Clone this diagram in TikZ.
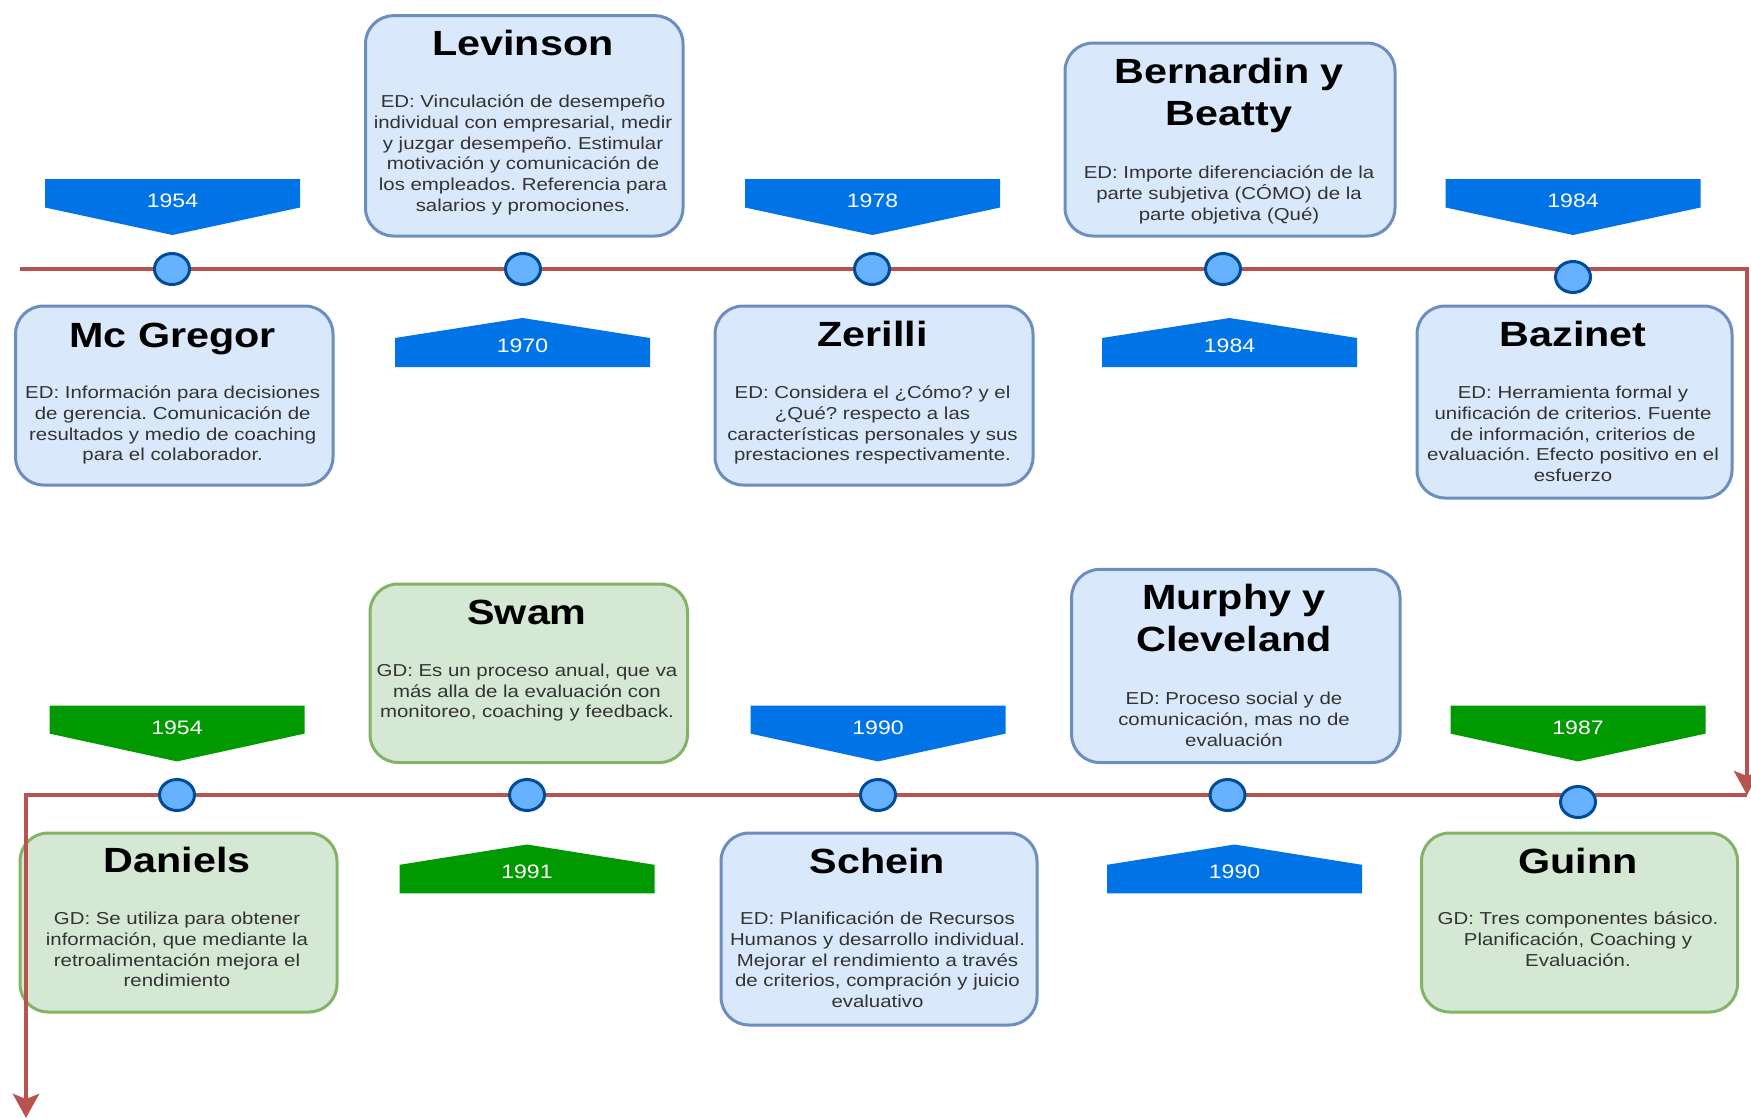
\documentclass[tikz,border=0pt]{standalone}
\usepackage{fontspec}
\setmainfont{Liberation Sans}[FakeStretch=1.18]
\usetikzlibrary{arrows.meta,shapes.geometric}
\frenchspacing

\definecolor{bluefill}{HTML}{DAE8FC}
\definecolor{blueline}{HTML}{6C8EBF}
\definecolor{greenfill}{HTML}{D5E8D4}
\definecolor{greenline}{HTML}{82B366}
\definecolor{bannerblue}{HTML}{0073E6}
\definecolor{bannergreen}{HTML}{009900}
\definecolor{linered}{HTML}{B85450}
\definecolor{dotfill}{HTML}{66B2FF}
\definecolor{dotline}{HTML}{004C99}
\definecolor{bodygray}{HTML}{333333}

% year flag pointing down: colour, centre x, top, side, tip, name, year
\newcommand\yeardown[7]{%
  \fill[#1] (#2-127.5,#3) -- (#2+127.5,#3) -- (#2+127.5,#4) -- (#2,#5) -- (#2-127.5,#4) -- cycle;
  \node[yearlabel] (#6) at (#2,#3+28.8) {#7};}
% year flag pointing up: colour, centre x, tip, side, bottom, name, year
\newcommand\yearup[7]{%
  \fill[#1] (#2,#3) -- (#2+127.5,#4) -- (#2+127.5,#5) -- (#2-127.5,#5) -- (#2-127.5,#4) -- cycle;
  \node[yearlabel] (#6) at (#2,#5-14.8) {#7};}

\tikzset{
  card/.style={line width=3pt, rounded corners=28pt, anchor=north west, inner sep=0pt,
    xshift=1.5pt, yshift=-1.5pt},
  bluecard/.style={card, draw=blueline, fill=bluefill},
  greencard/.style={card, draw=greenline, fill=greenfill},
  heading/.style={font=\fontsize{35}{42}\selectfont\bfseries, anchor=base, inner sep=0pt, align=center},
  heading2/.style={heading, anchor=north},
  body/.style={font=\fontsize{17.3}{20.8}\selectfont, text=bodygray, anchor=north, inner sep=0pt, align=center},
  dot/.style={ellipse, draw=dotline, fill=dotfill, line width=3pt, minimum width=35pt, minimum height=31pt, inner sep=0pt},
  yearlabel/.style={font=\fontsize{19.5}{23}\selectfont, text=white, anchor=base, inner sep=0pt},
  timeline/.style={draw=linered, line width=4.5pt, -{Stealth[length=24pt,width=26pt,inset=5pt]}}
}

\begin{document}
\begin{tikzpicture}[x=1pt,y=-1pt]
\useasboundingbox (0,0) rectangle (1751,1119);

% ---------- upper row cards ----------
\node[bluecard, minimum width=317.5pt, minimum height=179pt] (mcgregor) at (12.5,303) {};
\node[heading] (mcgregorT) at (172.7,347) {Mc Gregor};
\node[body] (mcgregorB) at (172.7,398.3-14) {\rule{0pt}{14pt}ED: Información para decisiones\\de gerencia. Comunicación de\\resultados y medio de coaching\\para el colaborador.};

\node[bluecard, minimum width=317.5pt, minimum height=220.3pt] (levinson) at (362.5,12.7) {};
\node[heading] (levinsonT) at (523,55) {Levinson};
\node[body] (levinsonB) at (523,107.3-14) {\rule{0pt}{14pt}ED: Vinculación de desempeño\\individual con empresarial, medir\\y juzgar desempeño. Estimular\\motivación y comunicación de\\los empleados. Referencia para\\salarios y promociones.};

\node[bluecard, minimum width=318pt, minimum height=179pt] (zerilli) at (712,303) {};
\node[heading] (zerilliT) at (872.5,346) {Zerilli};
\node[body] (zerilliB) at (872.5,398.3-14) {\rule{0pt}{14pt}ED: Considera el ¿Cómo? y el\\¿Qué? respecto a las\\características personales y sus\\prestaciones respectivamente.};

\node[bluecard, minimum width=330pt, minimum height=193pt] (bernardin) at (1062,40) {};
\node[heading2] (bernardinT) at (1229,83.3-30) {\rule{0pt}{30pt}Bernardin y\\Beatty};
\node[body] (bernardinB) at (1229,178.3-14) {\rule{0pt}{14pt}ED: Importe diferenciación de la\\parte subjetiva (CÓMO) de la\\parte objetiva (Qué)};

\node[bluecard, minimum width=315pt, minimum height=192pt] (bazinet) at (1414,303) {};
\node[heading] (bazinetT) at (1573,346) {Bazinet};
\node[body] (bazinetB) at (1573,398.3-14) {\rule{0pt}{14pt}ED: Herramienta formal y\\unificación de criterios. Fuente\\de información, criterios de\\evaluación. Efecto positivo en el\\esfuerzo};

% ---------- lower row cards ----------
\node[greencard, minimum width=317pt, minimum height=179pt] (daniels) at (17,830) {};
\node[heading] (danielsT) at (177,872.7) {Daniels};
\node[body] (danielsB) at (177,924.3-14) {\rule{0pt}{14pt}GD: Se utiliza para obtener\\información, que mediante la\\retroalimentación mejora el\\rendimiento};

\node[greencard, minimum width=317.5pt, minimum height=178.5pt] (swam) at (367,581) {};
\node[heading] (swamT) at (527,624) {Swam};
\node[body] (swamB) at (527,676-14) {\rule{0pt}{14pt}GD: Es un proceso anual, que va\\más alla de la evaluación con\\monitoreo, coaching y feedback.};

\node[bluecard, minimum width=316pt, minimum height=192pt] (schein) at (718,830) {};
\node[heading] (scheinT) at (877.5,873) {Schein};
\node[body] (scheinB) at (877.5,924.3-14) {\rule{0pt}{14pt}ED: Planificación de Recursos\\Humanos y desarrollo individual.\\Mejorar el rendimiento a través\\de criterios, compración y juicio\\evaluativo};

\node[bluecard, minimum width=328.4pt, minimum height=193.1pt] (murphy) at (1068.6,566.4) {};
\node[heading2] (murphyT) at (1234,609-30) {\rule{0pt}{30pt}Murphy y\\Cleveland};
\node[body] (murphyB) at (1234,704.4-14) {\rule{0pt}{14pt}ED: Proceso social y de\\comunicación, mas no de\\evaluación};

\node[greencard, minimum width=316pt, minimum height=179pt] (guinn) at (1418.5,830) {};
\node[heading] (guinnT) at (1578,873) {Guinn};
\node[body] (guinnB) at (1578,924.3-14) {\rule{0pt}{14pt}GD: Tres componentes básico.\\Planificación, Coaching y\\Evaluación.};

% ---------- year flags ----------
\yeardown{bannerblue}{172.5}{179}{207.5}{235}{y1954a}{1954}
\yeardown{bannerblue}{872.5}{179}{207.5}{235}{y1978}{1978}
\yeardown{bannerblue}{1573}{179}{207.5}{235}{y1984a}{1984}
\yearup{bannerblue}{522.5}{318}{338}{367}{y1970}{1970}
\yearup{bannerblue}{1229.5}{318}{338}{367}{y1984b}{1984}

\yeardown{bannergreen}{177}{705.5}{733.6}{761.4}{y1954b}{1954}
\yeardown{bannerblue}{878}{705.5}{733.6}{761.4}{y1990a}{1990}
\yeardown{bannergreen}{1578}{705.5}{733.6}{761.4}{y1987}{1987}
\yearup{bannergreen}{527}{844.5}{864.8}{893.3}{y1991}{1991}
\yearup{bannerblue}{1234.5}{844.5}{864.8}{893.3}{y1990b}{1990}

% ---------- time line ----------
\coordinate (tstart) at (20,269);
\coordinate (tright) at (1747,269);
\coordinate (bright) at (1747,795);
\coordinate (bleft) at (26,795);
\coordinate (bend) at (26,1118);
\draw[timeline] (tstart) -- (tright) -- (bright);
\draw[timeline] (bright) -- (bleft) -- (bend);

% ---------- milestones ----------
\node[dot] (d1) at (172,269) {};
\node[dot] (d2) at (523,269) {};
\node[dot] (d3) at (872,269) {};
\node[dot] (d4) at (1223,269) {};
\node[dot] (d5) at (1573,277) {};
\node[dot] (e1) at (177,795) {};
\node[dot] (e2) at (527,795) {};
\node[dot] (e3) at (878,795) {};
\node[dot] (e4) at (1227.5,795) {};
\node[dot] (e5) at (1578,802) {};
\end{tikzpicture}
\end{document}
